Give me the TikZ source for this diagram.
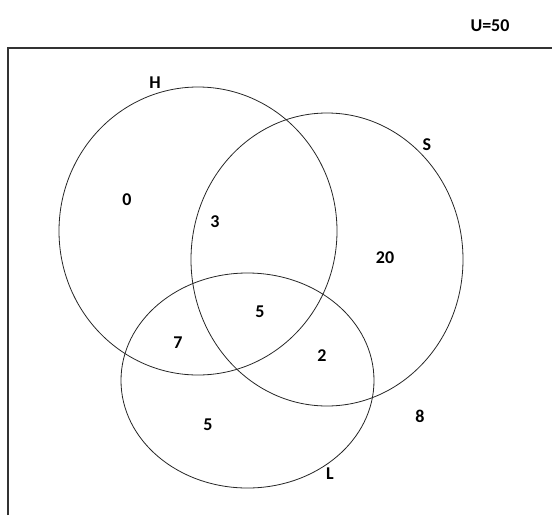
\documentclass[tikz,border=0pt]{standalone}
\usepackage{fontspec}
\setmainfont{Carlito}
\usepackage{tikz}

\begin{document}
\begin{tikzpicture}[x=1pt,y=-1pt,
  lbl/.style={font=\bfseries\fontsize{18}{20}\selectfont,inner sep=0pt},
  set/.style={draw=black!85,line width=0.8pt}]
\useasboundingbox (0,0) rectangle (552,515);
\draw[line width=1.3pt,black!80] (8,515) -- (8,48) -- (552,48);
\node (u) at (490,26) [lbl] {U=50};
% the three sets
\draw[set] (198,231) ellipse [x radius=139pt,y radius=144pt];
\draw[set] (327,259.5) ellipse [x radius=136pt,y radius=146.5pt];
\draw[set] (247.5,380.5) ellipse [x radius=126.5pt,y radius=107.5pt];
\node (h) at (155,83) [lbl] {H};
\node (s) at (427,145) [lbl] {S};
\node (l) at (330,474) [lbl] {L};
% region counts
\foreach \n/\x/\y/\t in {a/127/200/0, b/215/222/3, c/385/258/20, d/260/312/5,
                         e/178/343/7, f/322/356/2, g/208/425/5, k/420/416/8} {
\node (n\n) at (\x,\y) [lbl] {\t};
}
\end{tikzpicture}
\end{document}
